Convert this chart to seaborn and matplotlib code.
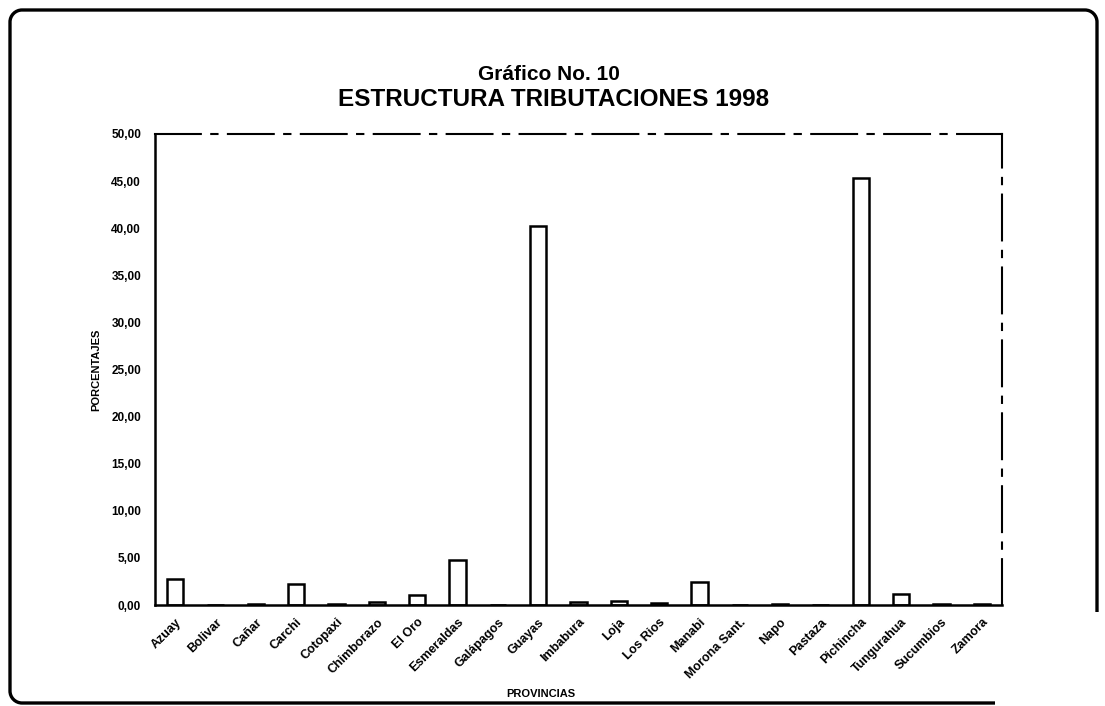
import matplotlib
matplotlib.use("Agg")
import matplotlib.pyplot as plt
from matplotlib.path import Path
from matplotlib.patches import PathPatch
import seaborn as sns
import pandas as pd

provincias = ["Azuay", "Bolivar", "Cañar", "Carchi", "Cotopaxi", "Chimborazo",
              "El Oro", "Esmeraldas", "Galápagos", "Guayas", "Imbabura", "Loja",
              "Los Rios", "Manabi", "Morona Sant.", "Napo", "Pastaza", "Pichincha",
              "Tungurahua", "Sucumbios", "Zamora"]
porcentajes = [2.8, 0.05, 0.1, 2.2, 0.1, 0.3,
               1.1, 4.8, 0.05, 40.2, 0.3, 0.4,
               0.2, 2.4, 0.05, 0.15, 0.05, 45.3,
               1.2, 0.1, 0.1]
y_ticks = [0, 5, 10, 15, 20, 25, 30, 35, 40, 45, 50]
y_tick_labels = ["0,00", "5,00", "10,00", "15,00", "20,00", "25,00",
                 "30,00", "35,00", "40,00", "45,00", "50,00"]

df = pd.DataFrame({"provincia": provincias, "porcentaje": porcentajes})

sns.set_theme(style="white")
plt.rcParams["font.family"] = ["Liberation Sans", "DejaVu Sans"]
plt.rcParams["text.color"] = "black"
plt.rcParams["axes.labelcolor"] = "black"
plt.rcParams["xtick.color"] = "black"
plt.rcParams["ytick.color"] = "black"

W, H = 1105, 706
fig = plt.figure(figsize=(W / 100, H / 100), dpi=100)
fig.patch.set_facecolor("white")


def fp(x, y):
    """pixel position (from top-left) -> figure fraction"""
    return (x / W, 1 - y / H)


# outer page frame, rounded on the left, open at the lower right
r = 12
k = 0.55 * r
L, T, R, B = 10, 10, 1097, 703
verts = [fp(995, B), fp(L + r, B),
         fp(L + r - k, B), fp(L, B - r + k), fp(L, B - r),
         fp(L, T + r),
         fp(L, T + r - k), fp(L + r - k, T), fp(L + r, T),
         fp(R - r, T),
         fp(R - r + k, T), fp(R, T + r - k), fp(R, T + r),
         fp(R, 612)]
codes = [Path.MOVETO, Path.LINETO,
         Path.CURVE4, Path.CURVE4, Path.CURVE4,
         Path.LINETO,
         Path.CURVE4, Path.CURVE4, Path.CURVE4,
         Path.LINETO,
         Path.CURVE4, Path.CURVE4, Path.CURVE4,
         Path.LINETO]
fig.patches.append(PathPatch(Path(verts, codes), transform=fig.transFigure,
                             fill=False, edgecolor="black", linewidth=2.4,
                             capstyle="butt"))

ax = fig.add_axes([155 / W, 1 - 605 / H, (1002 - 155) / W, (605 - 134) / H])
sns.barplot(data=df, x="provincia", y="porcentaje", ax=ax, color="white",
            edgecolor="black", linewidth=1.8, width=0.4, saturation=1)

ax.set_ylim(0, 50)
ax.set_xlim(-0.5, 20.5)
ax.set_yticks(y_ticks)
ax.set_yticklabels(y_tick_labels, fontsize=8.5, fontweight="bold")
ax.set_xticks(range(len(provincias)))
ax.set_xticklabels(provincias, rotation=45, ha="right", rotation_mode="anchor",
                   fontsize=9, fontweight="bold")
ax.tick_params(axis="y", length=0, pad=10)
ax.tick_params(axis="x", length=0, pad=8)

for side in ["left", "bottom"]:
    ax.spines[side].set_visible(True)
    ax.spines[side].set_color("black")
    ax.spines[side].set_linewidth(1.8)
for side in ["top", "right"]:
    ax.spines[side].set_visible(True)
    ax.spines[side].set_color("black")
    ax.spines[side].set_linewidth(1.5)
    ax.spines[side].set_linestyle((0, (22, 5, 3, 5)))

ax.set_xlabel("PROVINCIAS", fontsize=8, fontweight="bold")
ax.set_ylabel("PORCENTAJES", fontsize=8, fontweight="bold")
ax.xaxis.set_label_coords(0.456, -0.178)
ax.yaxis.set_label_coords(-0.063, 0.5)

fig.text(549 / W, 1 - 75 / H, "Gráfico No. 10", ha="center", va="center",
         fontsize=15, fontweight="bold")
fig.text(554 / W, 1 - 100 / H, "ESTRUCTURA TRIBUTACIONES 1998", ha="center",
         va="center", fontsize=17.5, fontweight="bold")

fig.savefig("out.png", dpi=100, facecolor="white")
